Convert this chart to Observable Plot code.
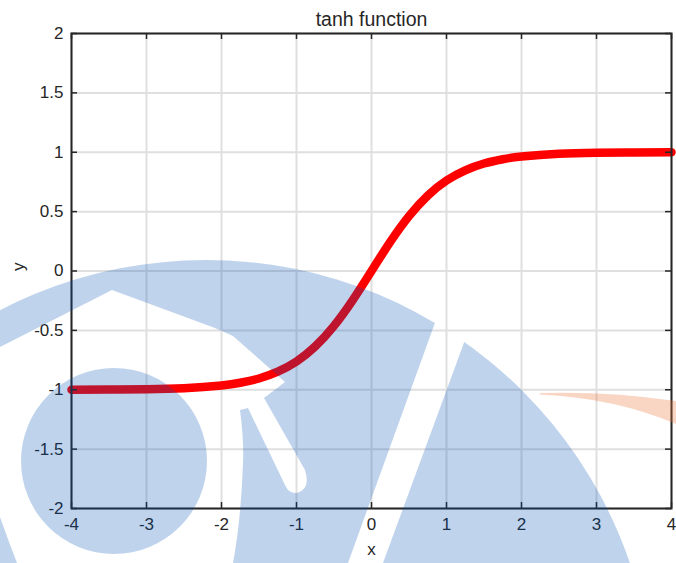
<!DOCTYPE html>
<html>
<head>
<meta charset="utf-8">
<script src="https://cdn.jsdelivr.net/npm/d3@7"></script>
<script src="https://cdn.jsdelivr.net/npm/@observablehq/plot@0.6"></script>
<style>
  html, body { margin: 0; padding: 0; background: #ffffff; }
  #wrap { position: relative; width: 676px; height: 563px; overflow: hidden; }
  #wrap svg { display: block; }
  #logo { position: absolute; left: 0; top: 0; pointer-events: none; }
</style>
</head>
<body>
<div id="wrap"></div>
<script>
// Sampled points of the hyperbolic tangent curve
const xs = [-4, -3.5, -3, -2.5, -2, -1.75, -1.5, -1.25, -1, -0.75, -0.5, -0.25, 0,
            0.25, 0.5, 0.75, 1, 1.25, 1.5, 1.75, 2, 2.5, 3, 3.5, 4];
const ys = [-0.999, -0.998, -0.995, -0.987, -0.964, -0.941, -0.905, -0.848, -0.762, -0.635, -0.462, -0.245, 0,
            0.245, 0.462, 0.635, 0.762, 0.848, 0.905, 0.941, 0.964, 0.987, 0.995, 0.998, 0.999];

// Axis ticks and text
const xTicks = [-4, -3, -2, -1, 0, 1, 2, 3, 4];
const yTicks = [-2, -1.5, -1, -0.5, 0, 0.5, 1, 1.5, 2];
const titleText = "tanh function";
const xLabel = "x";
const yLabel = "y";

const points = xs.map((x, i) => ({x, y: ys[i]}));

const font = "'Liberation Sans', Arial, Helvetica, sans-serif";
const ink = "#262626";
const gridColor = "#dfdfdf";
const fmt = d => String(d);           // plain hyphen-minus labels

const W = 676, H = 563;
const mL = 71, mR = 5, mT = 33, mB = 55;
const frameW = W - mL - mR, frameH = H - mT - mB;
const tick = 6;

const chart = Plot.plot({
  width: W, height: H,
  marginLeft: mL, marginRight: mR, marginTop: mT, marginBottom: mB,
  style: {fontFamily: font, fontSize: "17px", color: ink, background: "transparent", overflow: "visible"},
  x: {domain: [-4, 4], label: null},
  y: {domain: [-2, 2], label: null},
  marks: [
    Plot.gridX(xTicks, {stroke: gridColor, strokeOpacity: 1, strokeWidth: 2}),
    Plot.gridY(yTicks, {stroke: gridColor, strokeOpacity: 1, strokeWidth: 2}),
    Plot.line(points, {x: "x", y: "y", stroke: "#ff0000", strokeWidth: 8.5,
                       strokeLinecap: "round", strokeLinejoin: "round", curve: "natural"}),
    // inward tick marks on all four sides
    Plot.ruleX(xTicks, {stroke: ink, strokeWidth: 1.5, insetTop: frameH - tick}),
    Plot.ruleX(xTicks, {stroke: ink, strokeWidth: 1.5, insetBottom: frameH - tick}),
    Plot.ruleY(yTicks, {stroke: ink, strokeWidth: 1.5, insetRight: frameW - tick}),
    Plot.ruleY(yTicks, {stroke: ink, strokeWidth: 1.5, insetLeft: frameW - tick}),
    Plot.axisX(xTicks, {anchor: "bottom", tickSize: 0, tickPadding: 9, tickFormat: fmt,
                        fill: ink, fontSize: 17, label: null}),
    Plot.axisY(yTicks, {anchor: "left", tickSize: 0, tickPadding: 8, tickFormat: fmt,
                        fill: ink, fontSize: 17, label: null}),
    Plot.frame({stroke: ink, strokeWidth: 2}),
    Plot.text([titleText], {frameAnchor: "top", dy: -8, fontSize: 19.5, fill: ink, lineAnchor: "bottom"}),
    Plot.text([xLabel], {frameAnchor: "bottom", dy: 46, fontSize: 17, fill: ink}),
    Plot.text([yLabel], {frameAnchor: "left", dx: -53, rotate: -90, fontSize: 17, fill: ink})
  ]
});

const wrap = document.getElementById("wrap");
wrap.appendChild(chart);

// translucent logo stamped over the chart
wrap.insertAdjacentHTML("beforeend", `
<svg id="logo" width="${W}" height="${H}" viewBox="0 0 ${W} ${H}">
  <defs>
    <mask id="logoMask" maskUnits="userSpaceOnUse" x="0" y="0" width="${W}" height="${H}">
      <rect width="${W}" height="${H}" fill="black"/>
      <circle cx="206" cy="708" r="448" fill="white"/>
      <path fill="black" d="M0,347 L112,290 L215,328 L233,336 L285,382 L264,398
        L305,470 Q311,489 297,493 Q289,494 285,485 L248,408 L240,410
        Q244,440 243,463 Q241,520 233,563 L17,563 Q8,540 0,517 Z"/>
      <path fill="black" d="M461,251 L490,272 L383,563 L348,563 Z"/>
      <circle cx="114" cy="461" r="93" fill="white"/>
    </mask>
  </defs>
  <rect width="${W}" height="${H}" fill="rgb(0,80,180)" fill-opacity="0.25" mask="url(#logoMask)"/>
  <path d="M540,393 Q610,391 676,401 L676,424 Q615,398 540,394.5 Z" fill="rgb(235,120,60)" fill-opacity="0.3"/>
</svg>`);
</script>
</body>
</html>
